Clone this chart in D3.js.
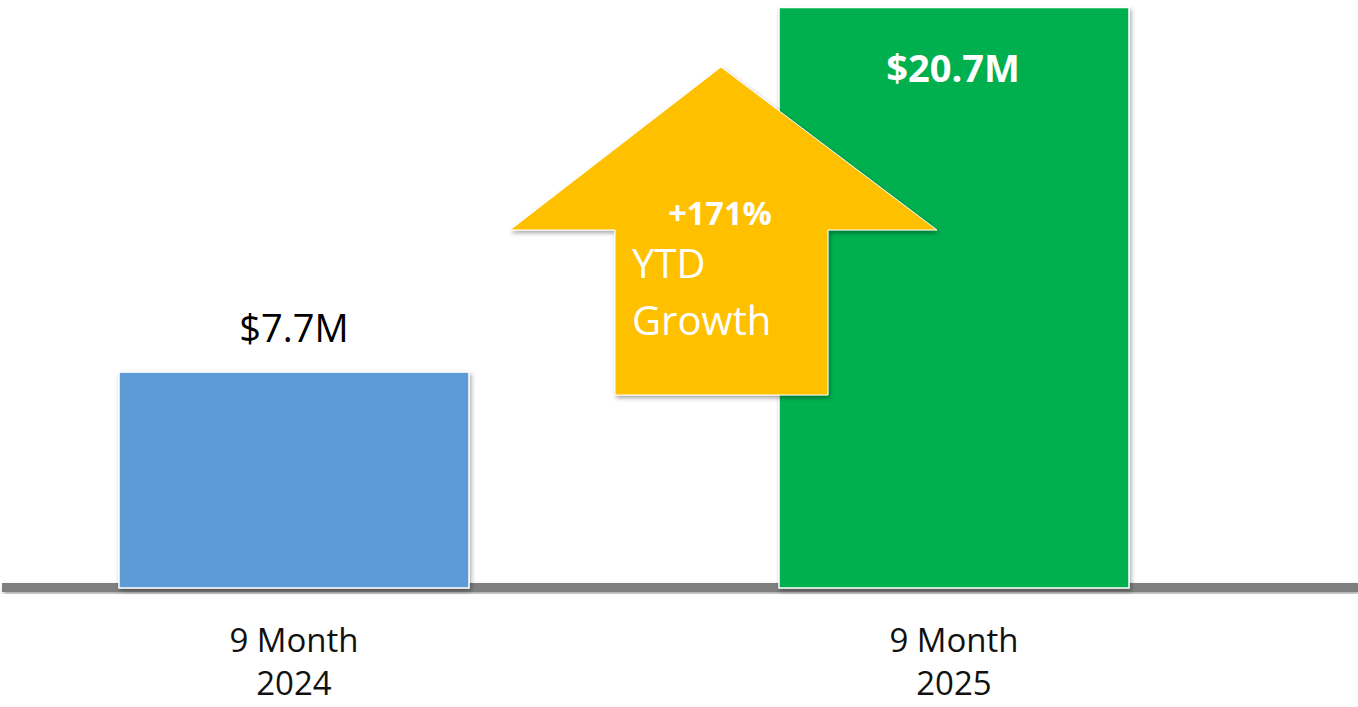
<!DOCTYPE html>
<html>
<head>
<meta charset="utf-8">
<script src="https://cdn.jsdelivr.net/npm/d3@7"></script>
<style>
  html, body { margin: 0; padding: 0; background: #ffffff; }
  svg { display: block; }
  text { font-family: "Open Sans", "Noto Sans", sans-serif; }
</style>
</head>
<body>
<svg id="chart"></svg>
<script>
// data
const categories = ["9 Month\n2024", "9 Month\n2025"];
const values = [7.7, 20.7];
const valueLabels = ["$7.7M", "$20.7M"];
const barColors = ["#5B9BD5", "#00B050"];
const growthPct = "+171%";
const growthLines = ["YTD", "Growth"];

const width = 1358;
const height = 707;

const svg = d3.select("#chart")
  .attr("width", width)
  .attr("height", height);

// soft office-like shadow
const defs = svg.append("defs");
const shadow = defs.append("filter")
  .attr("id", "shadow")
  .attr("x", "-10%").attr("y", "-10%")
  .attr("width", "120%").attr("height", "130%");
shadow.append("feDropShadow")
  .attr("dx", 1.5).attr("dy", 2.5)
  .attr("stdDeviation", 2)
  .attr("flood-color", "#000")
  .attr("flood-opacity", 0.35);

const x = d3.scaleBand()
  .domain(categories)
  .range([119, 1129])
  .paddingInner(310 / 660)
  .paddingOuter(0);

const y = d3.scaleLinear()
  .domain([0, 20.7])
  .range([588, 7.5]);

// baseline
svg.append("rect")
  .attr("x", 2)
  .attr("y", y(0) - 5)
  .attr("width", width - 2)
  .attr("height", 9)
  .attr("fill", "#7F7F7F")
  .attr("filter", "url(#shadow)");

// bars
svg.selectAll("rect.bar")
  .data(values)
  .join("rect")
  .attr("class", "bar")
  .attr("x", (d, i) => x(categories[i]))
  .attr("y", d => y(d))
  .attr("width", x.bandwidth())
  .attr("height", d => y(0) - y(d))
  .attr("fill", (d, i) => barColors[i])
  .attr("stroke", "#ffffff")
  .attr("stroke-width", 1.5)
  .attr("filter", "url(#shadow)");

// value labels: first one above bar, second one inside
svg.append("text")
  .attr("x", x(categories[0]) + x.bandwidth() / 2)
  .attr("y", y(values[0]) - 30)
  .attr("text-anchor", "middle")
  .attr("font-size", 38)
  .attr("fill", "#000")
  .text(valueLabels[0]);

svg.append("text")
  .attr("x", x(categories[1]) + x.bandwidth() / 2 - 1)
  .attr("y", y(values[1]) + 74)
  .attr("text-anchor", "middle")
  .attr("font-size", 38)
  .attr("font-weight", "bold")
  .attr("fill", "#ffffff")
  .text(valueLabels[1]);

// category labels
categories.forEach(c => {
  const t = svg.append("text")
    .attr("x", x(c) + x.bandwidth() / 2)
    .attr("y", 652)
    .attr("text-anchor", "middle")
    .attr("font-size", 33)
    .attr("fill", "#111");
  c.split("\n").forEach((line, j) => {
    t.append("tspan")
      .attr("x", x(c) + x.bandwidth() / 2)
      .attr("dy", j === 0 ? 0 : 43)
      .text(line);
  });
});

// growth arrow
const tipX = 721, tipY = 67, wingY = 230, wingL = 510, wingR = 937;
const shaftL = 615, shaftR = 828, shaftB = 395;
const arrowPts = [
  [tipX, tipY], [wingR, wingY], [shaftR, wingY], [shaftR, shaftB],
  [shaftL, shaftB], [shaftL, wingY], [wingL, wingY]
];
svg.append("path")
  .attr("d", d3.line()(arrowPts) + "Z")
  .attr("fill", "#FFC000")
  .attr("stroke", "#ffffff")
  .attr("stroke-width", 1)
  .attr("filter", "url(#shadow)");

svg.append("text")
  .attr("x", 720)
  .attr("y", 225)
  .attr("text-anchor", "middle")
  .attr("font-size", 32.5)
  .attr("font-weight", "bold")
  .attr("fill", "#ffffff")
  .text(growthPct);

growthLines.forEach((line, i) => {
  svg.append("text")
    .attr("x", 632)
    .attr("y", 278 + i * 57)
    .attr("font-size", 40)
    .attr("fill", "#ffffff")
    .text(line);
});
</script>
</body>
</html>
